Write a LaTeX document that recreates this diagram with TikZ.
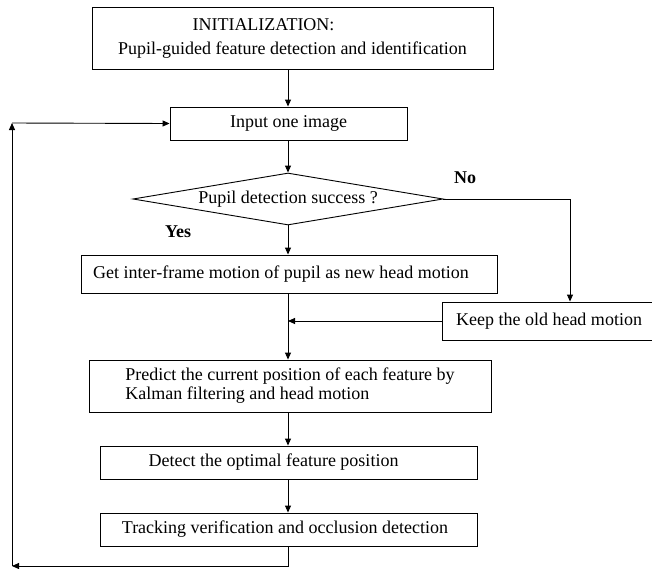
\documentclass[tikz,border=0pt]{standalone}
\usepackage{fontspec}
\setmainfont{Liberation Serif}
\usetikzlibrary{arrows.meta,shapes.geometric}
\begin{document}
\begin{tikzpicture}[x=1pt,y=-1pt,line width=0.9pt,
  txt/.style={font=\fontsize{18}{19}\selectfont},
  box/.style={draw,rectangle,inner sep=0pt,txt},
  arr/.style={-{Triangle[length=7pt,width=6pt]}},
  lbl/.style={font=\fontsize{18}{19}\selectfont\bfseries}
]
\useasboundingbox (0,0) rectangle (652,568);
\fill[white] (0,0) rectangle (652,568);

\node[box,minimum width=401pt,minimum height=62pt,align=center,font=\fontsize{18}{24}\selectfont] (init) at (292.5,38)
  {INITIALIZATION:\hspace*{58pt}\\Pupil-guided feature detection and identification};
\node[box,minimum width=237pt,minimum height=33pt] (input) at (288.5,123.5) {Input one image};
\node[draw,diamond,aspect=6,inner sep=0pt,minimum width=310pt,minimum height=52pt,txt] (dia) at (288,199) {Pupil detection success ?};
\node[box,minimum width=416pt,minimum height=38pt] (get) at (289,274) {Get inter-frame motion of pupil as new head motion\hspace*{16pt}};
\node[box,minimum width=214pt,minimum height=38pt] (keep) at (549,321) {Keep the old head motion};
\node[box,minimum width=402pt,minimum height=52pt,align=left] (predict) at (290,386)
  {Predict the current position of each feature by\\Kalman filtering and head motion};
\node[box,minimum width=377pt,minimum height=33pt] (detect) at (288.5,462.5) {Detect the optimal feature position\hspace*{30pt}};
\node[box,minimum width=377pt,minimum height=33pt] (track) at (288.5,529.5) {Tracking verification and occlusion detection\hspace*{7pt}};

\node[lbl] (no) at (465,178) {No};
\node[lbl] (yes) at (178,232) {Yes};

\coordinate (nocorner) at (570,199);
\coordinate (loopbl) at (12,566);
\coordinate (looptl) at (12,123);

\draw[arr] (init.south -| dia.north) -- (input.north -| dia.north);
\draw[arr] (input.south -| dia.north) -- (dia.north);
\draw[arr] (dia.south) -- (get.north -| dia.south);
\draw (dia.east) -- (nocorner);
\draw[arr] (nocorner) -- (nocorner |- keep.north);
\draw[arr] (get.south -| dia.south) -- (predict.north -| dia.south);
\draw[arr] (keep.west) -- (keep.west -| dia.south);
\draw[arr] (predict.south -| dia.south) -- (detect.north -| dia.south);
\draw[arr] (detect.south -| dia.south) -- (track.north -| dia.south);
\draw[arr] (track.south -| dia.south) |- (loopbl);
\draw[arr] (loopbl) -- (looptl);
\draw[arr] (looptl) -- (input.west);
\end{tikzpicture}
\end{document}
